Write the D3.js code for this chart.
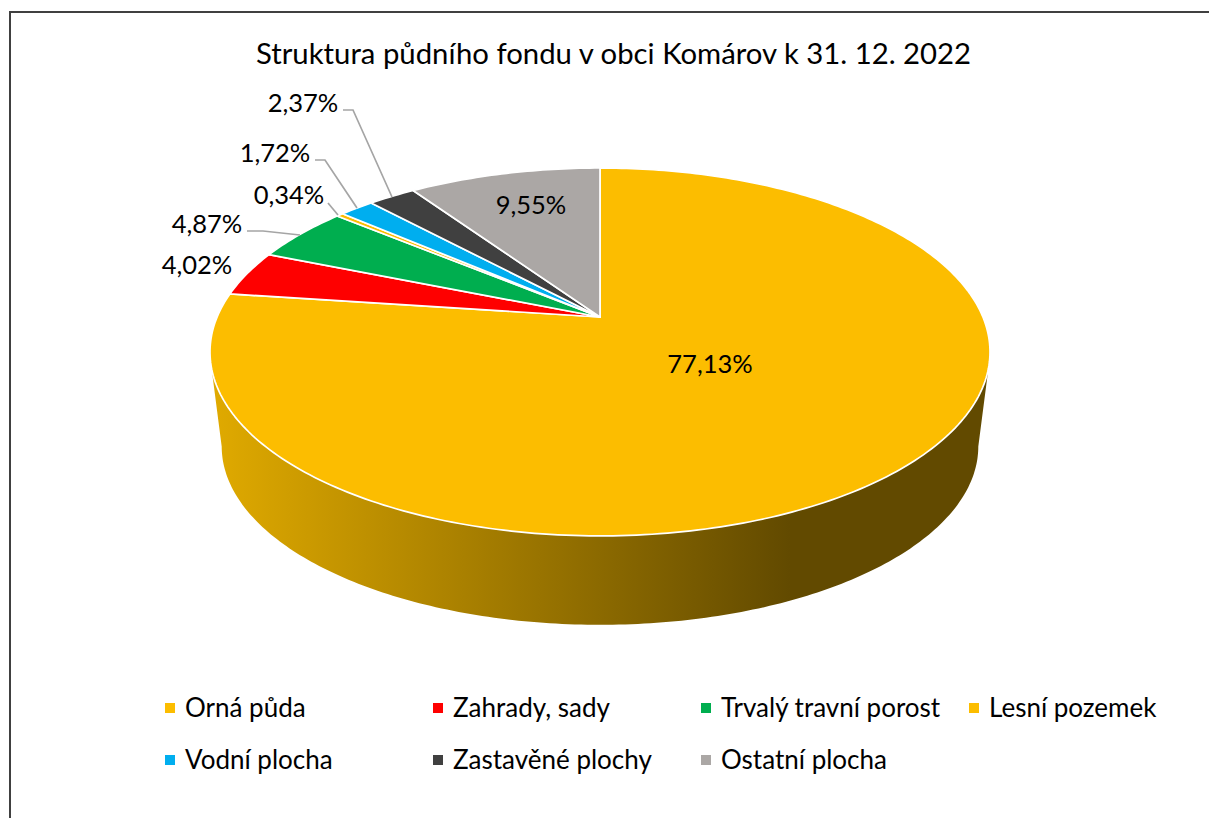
<!DOCTYPE html>
<html><head><meta charset="utf-8">
<script src="https://cdn.jsdelivr.net/npm/d3@7"></script>
<style>html,body{margin:0;background:#fff}svg{display:block}text{font-family:Lato,sans-serif;fill:#000}</style>
</head><body><svg id="c" width="1209" height="818"></svg>
<script>
const categories=["Orná půda","Zahrady, sady","Trvalý travní porost","Lesní pozemek","Vodní plocha","Zastavěné plochy","Ostatní plocha"];
const values=[77.13,4.02,4.87,0.34,1.72,2.37,9.55];
const labels=["77,13%","4,02%","4,87%","0,34%","1,72%","2,37%","9,55%"];
const colors=["#FCBD00","#FE0000","#00AE4F","#FCBD00","#00AEEF","#404040","#ABA7A5"];
const titleText="Struktura půdního fondu v obci Komárov k 31. 12. 2022";
const wallStops=[[0,"#e0aa00"],[0.745,"#624a00"],[1,"#624a00"]];
// layout
const labelPos=[[710,364],[197,265],[207,224],[289,195],[275,153],[303,103],[531,205]];
const leaders=[null,null,[[247,231],[263,231],[300,235]],[[328,203],[338,215]],[[315,160],[325,160],[357,208]],[[343,110],[353,110],[392,197]],null];
const legendPos=[[163,708],[431,708],[699,708],[967,708],[163,760],[431,760],[699,760]];

const svg=d3.select("#c");
// frame
svg.append("path").attr("d","M10,818V12H1209").attr("fill","none").attr("stroke","#404040").attr("stroke-width",2);
// perspective projection of the pie disc
const cx=600,cy=317,sx=382.9,k=177.3,p=-0.19,wallDy=95.5,wallSc=0.97;
const proj=(a,dy=0,sc=1)=>{const u=Math.sin(a),v=-Math.cos(a),w=1+p*v;return [cx+sc*sx*u/w,cy+dy+sc*k*v/w];};
const pie=d3.pie().sort(null)(values);
const line=d3.line();
const defs=svg.append("defs");
const g=defs.append("linearGradient").attr("id","wall").attr("gradientUnits","userSpaceOnUse").attr("x1",212).attr("x2",988).attr("y1",0).attr("y2",0);
wallStops.forEach(s=>g.append("stop").attr("offset",s[0]).attr("stop-color",s[1]));
// side wall
const sweep=(a0,a1,n)=>d3.range(n+1).map(i=>a0+(a1-a0)*i/n);
const rad=Math.PI/180;
const wallPts=sweep(106*rad,254*rad,200).map(a=>proj(a)).concat(sweep(259*rad,101*rad,200).map(a=>proj(a,wallDy,wallSc)));
svg.append("path").attr("d",line(wallPts)+"Z").attr("fill","url(#wall)");
// top
svg.append("g").selectAll("path").data(pie).join("path")
 .attr("d",d=>{const n=Math.max(2,Math.ceil((d.endAngle-d.startAngle)*60));
   const pts=[[cx,cy]].concat(sweep(d.startAngle,d.endAngle,n).map(a=>proj(a)));
   return line(pts)+"Z";})
 .attr("fill",(d,i)=>colors[i]).attr("stroke","#fff").attr("stroke-width",1.7).attr("stroke-linejoin","round");
// leaders
svg.append("g").selectAll("path").data(leaders.filter(Boolean)).join("path")
 .attr("d",d=>line(d)).attr("fill","none").attr("stroke","#A5A5A5").attr("stroke-width",1.7);
// labels
svg.append("g").selectAll("text").data(labels).join("text")
 .attr("x",(d,i)=>labelPos[i][0]).attr("y",(d,i)=>labelPos[i][1]).attr("dy","0.35em")
 .attr("text-anchor","middle").attr("font-size",25.5).text(d=>d);
// title
svg.append("text").attr("x",613.5).attr("y",54).attr("dy","0.35em").attr("text-anchor","middle").attr("font-size",29.3).text(titleText);
// legend
const lg=svg.append("g").selectAll("g").data(categories).join("g").attr("transform",(d,i)=>`translate(${legendPos[i][0]},${legendPos[i][1]})`);
lg.append("rect").attr("x",2).attr("y",-5).attr("width",10).attr("height",10).attr("fill",(d,i)=>colors[i]);
lg.append("text").attr("x",22).attr("dy","0.35em").attr("font-size",26).text(d=>d);
</script></body></html>
